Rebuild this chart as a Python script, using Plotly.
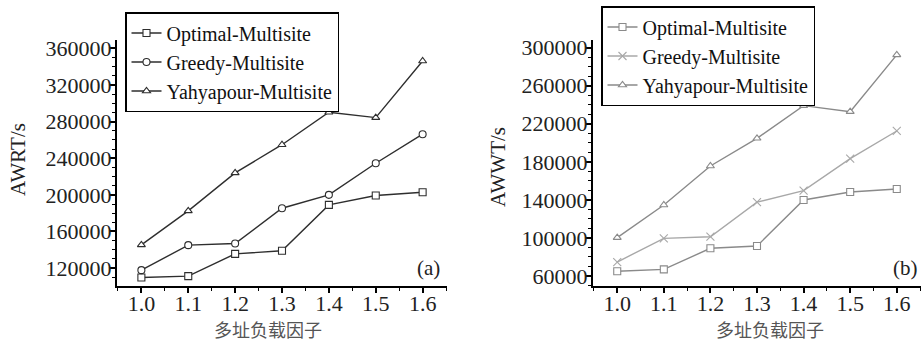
import plotly.graph_objects as go

load = [1.0, 1.1, 1.2, 1.3, 1.4, 1.5, 1.6]
series_names = ["Optimal-Multisite", "Greedy-Multisite", "Yahyapour-Multisite"]

awrt_optimal = [109700, 111300, 135600, 138900, 189000, 199200, 202900]
awrt_greedy = [117800, 145100, 146900, 185400, 200000, 234500, 266200]
awrt_yahyapour = [145400, 182500, 224000, 254700, 290200, 284300, 346100]

awwt_optimal = [65000, 67000, 89100, 91500, 139900, 148300, 151400]
awwt_greedy = [74700, 99600, 101300, 137600, 149700, 183300, 212400]
awwt_yahyapour = [100300, 134600, 175600, 204700, 239000, 232700, 292400]

W, H = 921, 343
ML, MR, MT, MB = 0, 0, 40, 57
PH = H - MT - MB

def px(x):
    return x / W

def py(y):
    return (H - MB - y) / PH

def cy(y):
    return 1 - y / H

serif = "Liberation Serif"
fig = go.Figure()

def add(xa, ya, legend, y, name, symbol, color, lw=1.4, msize=7):
    fig.add_trace(go.Scatter(
        x=load, y=y, name=name, xaxis=xa, yaxis=ya, legend=legend,
        mode="lines+markers",
        line=dict(color=color, width=lw),
        marker=dict(symbol=symbol, size=msize, color="white", line=dict(color=color, width=1.1)),
    ))

dark = "#2e2e2e"
add("x", "y", "legend", awrt_optimal, series_names[0], "square", dark)
add("x", "y", "legend", awrt_greedy, series_names[1], "circle", dark)
add("x", "y", "legend", awrt_yahyapour, series_names[2], "triangle-up", dark)

g1, g2 = "#8a8a8a", "#a8a8a8"
add("x2", "y2", "legend2", awwt_optimal, series_names[0], "square", g1)
add("x2", "y2", "legend2", awwt_greedy, series_names[1], "x-thin", g2, msize=8)
add("x2", "y2", "legend2", awwt_yahyapour, series_names[2], "triangle-up", g1)

tickfont = dict(family=serif, size=22, color="#222222")

def xax(domain, anchor):
    return dict(domain=domain, anchor=anchor, range=[0.948, 1.652],
                tickvals=load, ticktext=["%.1f" % v for v in load],
                showline=True, linecolor="black", linewidth=2,
                ticks="outside", ticklen=5, tickwidth=1.5, tickcolor="black",
                ticklabelstandoff=-8,
                minor=dict(dtick=0.05, tick0=1.0, ticks="outside", ticklen=3, tickcolor="black", tickwidth=1.2),
                showgrid=False, zeroline=False, tickfont=tickfont, automargin=False)

def yax(domain, anchor, rng, tv):
    return dict(domain=domain, anchor=anchor, range=rng, tickvals=tv,
                ticktext=[str(v) for v in tv],
                showline=True, linecolor="black", linewidth=2,
                ticks="outside", ticklen=5, tickwidth=1.5, tickcolor="black",
                ticklabelstandoff=-6,
                minor=dict(dtick=10000, tick0=0, ticks="outside", ticklen=3, tickcolor="black", tickwidth=1.2),
                showgrid=False, zeroline=False, tickfont=tickfont, automargin=False)

ticks_a = [120000, 160000, 200000, 240000, 280000, 320000, 360000]
ticks_b = [60000, 100000, 140000, 180000, 220000, 260000, 300000]

legend_style = dict(font=dict(family=serif, size=20, color="#111111"),
                    bordercolor="black", borderwidth=1.5, bgcolor="white",
                    itemwidth=30, tracegroupgap=0, xanchor="left", yanchor="top",
                    xref="container", yref="container")

def ann(text, x, y, size=21, family=serif, color="#222222", angle=0):
    return dict(text=text, x=px(x), y=py(y), xref="paper", yref="paper", textangle=angle,
                xanchor="center", yanchor="middle", showarrow=False,
                font=dict(family=family, size=size, color=color))

fig.update_layout(
    width=W, height=H,
    margin=dict(l=ML, r=MR, t=MT, b=MB, autoexpand=False),
    paper_bgcolor="white", plot_bgcolor="white",
    xaxis=xax([px(117), px(447)], "y"),
    yaxis=yax([0, 1], "x", [100500, 369000], ticks_a),
    xaxis2=xax([px(593), 1.0], "y2"),
    yaxis2=yax([0, 1], "x2", [49500, 308000], ticks_b),
    legend=dict(x=px(125), y=cy(12), **legend_style),
    legend2=dict(x=px(601), y=cy(6), **legend_style),
    annotations=[
        ann("AWRT/s", 18, 160, angle=-90),
        ann("AWWT/s", 498, 167, angle=-90),
        ann("多址负载因子", 268, 329, size=18, family="Noto Sans CJK SC", color="#555555"),
        ann("多址负载因子", 770, 329, size=18, family="Noto Sans CJK SC", color="#555555"),
        ann("(a)", 428, 268),
        ann("(b)", 905, 268),
    ],
)

fig.write_html("out.html", config={"displayModeBar": False},
               post_script="document.body.style.margin='0px';document.body.style.overflow='hidden';")
